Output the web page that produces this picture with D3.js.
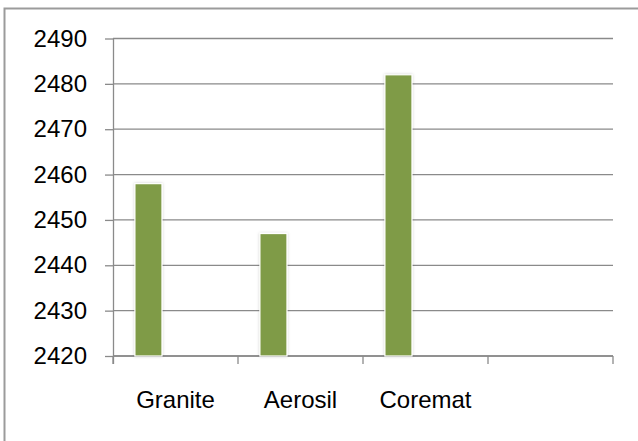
<!DOCTYPE html>
<html><head><meta charset="utf-8">
<script src="https://cdn.jsdelivr.net/npm/d3@7"></script>
<style>
html,body{margin:0;padding:0;background:#fff;}
svg{display:block;}
text{font-family:"Liberation Sans",Arial,sans-serif;fill:#000;}
</style></head>
<body>
<script>
const categories = ["Granite", "Aerosil", "Coremat", ""];
const values = [2458, 2447, 2482, null];
const yTicks = [2420, 2430, 2440, 2450, 2460, 2470, 2480, 2490];

const W = 638, H = 441;
const m = {left:113, right:25, top:38.5, bottom:85};
const svg = d3.select("body").append("svg").attr("width", W).attr("height", H);

const defs = svg.append("defs");
const f = defs.append("filter").attr("id","sh").attr("x","-50%").attr("y","-10%").attr("width","200%").attr("height","120%");
f.append("feGaussianBlur").attr("in","SourceAlpha").attr("stdDeviation",1.6).attr("result","b");
f.append("feFlood").attr("flood-color","#000").attr("flood-opacity",0.18).attr("result","c");
f.append("feComposite").attr("in","c").attr("in2","b").attr("operator","in").attr("result","s");
const mg = f.append("feMerge");
mg.append("feMergeNode").attr("in","s");
mg.append("feMergeNode").attr("in","SourceGraphic");

// outer frame
svg.append("rect").attr("x",4.5).attr("y",8.5).attr("width",W+10).attr("height",H+10)
  .attr("fill","none").attr("stroke","#9b9b9b").attr("stroke-width",2);

const x = d3.scaleBand().domain(categories.map((c,i)=>i)).range([m.left, W - m.right]).padding(0);
const y = d3.scaleLinear().domain([2420, 2490]).range([H - m.bottom, m.top]);

const gridColor = "#8a8a8a";
const fs = 24;
// gridlines
svg.append("g").selectAll("line").data(yTicks).join("line")
  .attr("x1", m.left).attr("x2", W - m.right)
  .attr("y1", d => y(d)).attr("y2", d => y(d))
  .attr("stroke", gridColor).attr("stroke-width", 1.3);

// y axis
const yAxis = svg.append("g").attr("transform", `translate(${m.left},0)`)
  .call(d3.axisLeft(y).tickValues(yTicks).tickSize(8).tickPadding(18).tickFormat(d3.format("d")));
yAxis.select(".domain").attr("stroke", gridColor).attr("stroke-width",1.3)
  .attr("d", `M0.5,${y(2490)}V${y(2420)+8}`);
yAxis.selectAll(".tick line").attr("stroke", gridColor).attr("stroke-width",1.3);
yAxis.selectAll(".tick text").attr("font-size", fs).attr("font-family","Liberation Sans, Arial, sans-serif").attr("fill","#000");

// x axis
const xAxis = svg.append("g").attr("transform", `translate(0,${y(2420)})`);
xAxis.append("line").attr("x1", m.left).attr("x2", W - m.right).attr("y1",0).attr("y2",0)
  .attr("stroke", gridColor).attr("stroke-width",1.3);
const tickXs = categories.map((c,i)=>x(i)).concat([x(categories.length-1)+x.bandwidth()]);
xAxis.selectAll("line.t").data(tickXs).join("line").attr("class","t")
  .attr("x1", d=>d).attr("x2", d=>d).attr("y1",0).attr("y2",8)
  .attr("stroke", gridColor).attr("stroke-width",1.3);
xAxis.selectAll("text").data(categories).join("text")
  .attr("x", (d,i)=>x(i) + x.bandwidth()/2).attr("y", 52)
  .attr("text-anchor","middle").attr("font-size",fs).text(d=>d);

// bars: first of three series slots in each category
const series = ["s1","s2","s3"];
const xs = d3.scaleBand().domain(series).range([0, x.bandwidth()]).paddingInner(0).paddingOuter(0.81);
svg.append("g").selectAll("rect").data(values.map((v,i)=>({v,i})).filter(d=>d.v!=null)).join("rect")
  .attr("x", d => x(d.i) + xs("s1"))
  .attr("width", xs.bandwidth())
  .attr("y", d => y(d.v))
  .attr("height", d => y(2420) - y(d.v))
  .attr("fill", "#7f9b47")
  .attr("stroke", "#ffffff").attr("stroke-width", 1.2)
  .attr("filter","url(#sh)");
</script>
</body></html>
